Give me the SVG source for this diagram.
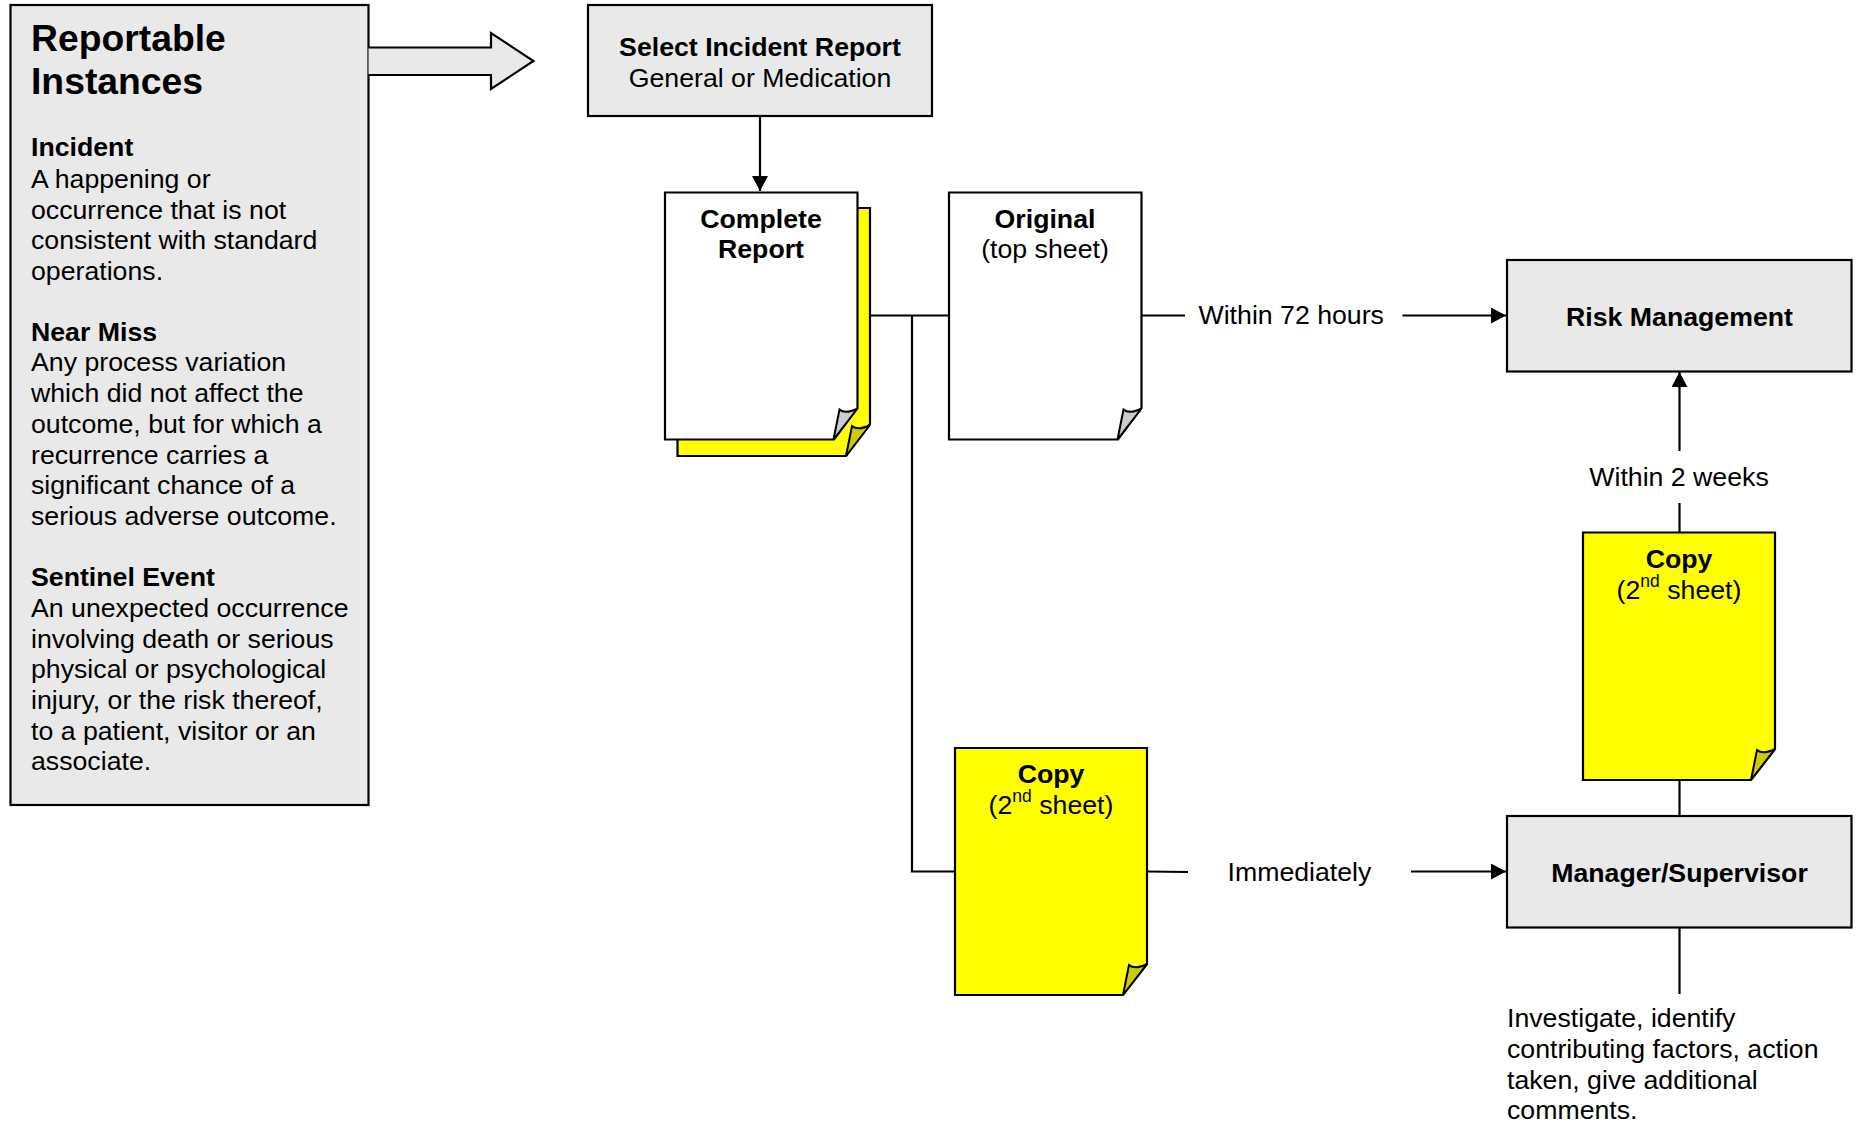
<svg xmlns="http://www.w3.org/2000/svg" width="1862" height="1126" viewBox="0 0 1862 1126">
<style>
text{font-family:"Liberation Sans",Arial,sans-serif;font-size:26.7px;fill:#000}
.b{font-weight:bold}
.h{font-weight:bold;font-size:37.3px}
.m{text-anchor:middle}
.box{fill:#e9e9e9;stroke:#000;stroke-width:2.2}
.w{fill:#fff;stroke:#000;stroke-width:2.2;stroke-linejoin:miter}
.y{fill:#ff0;stroke:#000;stroke-width:2.2}
.fw{fill:#ccc;stroke:#000;stroke-width:2}
.fy{fill:#cc0;stroke:#000;stroke-width:2}
.c{fill:none;stroke:#000;stroke-width:2.2}
</style>
<defs>
<marker id="a" markerUnits="userSpaceOnUse" markerWidth="16" markerHeight="16" refX="15" refY="8" orient="auto"><path d="M0,0L15,8L0,16Z" fill="#000"/></marker>
<path id="fold" d="M-24,0L-18,-30Q-12,-25 0,-31Z"/>
</defs>
<g id="connectors">
<path class="c" d="M760,116V191" marker-end="url(#a)"/>
<path class="c" d="M870,315.500H949"/>
<path class="c" d="M912,315.500V871.500H955"/>
<path class="c" d="M1141,315.500H1185"/>
<path class="c" d="M1402.500,315.500H1506" marker-end="url(#a)"/>
<path class="c" d="M1147,871.500L1188,872"/>
<path class="c" d="M1411,871.500H1506" marker-end="url(#a)"/>
<path class="c" d="M1679.500,816V780"/>
<path class="c" d="M1679.500,532V503"/>
<path class="c" d="M1679.500,451V372" marker-end="url(#a)"/>
<path class="c" d="M1679.500,927V994"/>
</g>
<g id="reportable">
<rect class="box" x="10.500" y="5" width="358" height="800"/>
<text class="h" x="31" y="51">Reportable</text>
<text class="h" x="31" y="94">Instances</text>
<text class="b" x="31" y="156">Incident</text>
<text x="31" y="188">A happening or</text>
<text x="31" y="219">occurrence that is not</text>
<text x="31" y="249">consistent with standard</text>
<text x="31" y="280">operations.</text>
<text class="b" x="31" y="341">Near Miss</text>
<text x="31" y="371">Any process variation</text>
<text x="31" y="402">which did not affect the</text>
<text x="31" y="433">outcome, but for which a</text>
<text x="31" y="464">recurrence carries a</text>
<text x="31" y="494">significant chance of a</text>
<text x="31" y="525">serious adverse outcome.</text>
<text class="b" x="31" y="586">Sentinel Event</text>
<text x="31" y="617">An unexpected occurrence</text>
<text x="31" y="648">involving death or serious</text>
<text x="31" y="678">physical or psychological</text>
<text x="31" y="709">injury, or the risk thereof,</text>
<text x="31" y="740">to a patient, visitor or an</text>
<text x="31" y="770">associate.</text>
</g>
<g id="block-arrow">
<path class="box" d="M368.500,47.500H491V33L533.500,61L491,89V75H368.500"/>
</g>
<g id="select-report">
<rect class="box" x="588" y="5" width="344" height="111"/>
<text class="b m" x="760" y="56">Select Incident Report</text>
<text class="m" x="760" y="87">General or Medication</text>
</g>
<g id="complete-report">
<path class="y" d="M677.500,208H870V424L846,456H677.500Z"/>
<use class="fy" href="#fold" x="870" y="456"/>
<path class="w" d="M665,192.500H857.500V408L834,439.500H665Z"/>
<use class="fw" href="#fold" x="857.500" y="439.500"/>
<text class="b m" x="761" y="228">Complete</text>
<text class="b m" x="761" y="258">Report</text>
</g>
<g id="original">
<path class="w" d="M949,192.500H1141.500V408L1118,439.500H949Z"/>
<use class="fw" href="#fold" x="1141.500" y="439.500"/>
<text class="b m" x="1045" y="228">Original</text>
<text class="m" x="1045" y="258">(top sheet)</text>
</g>
<g id="copy-lower">
<path class="y" d="M955,748H1147V964L1123,995H955Z"/>
<use class="fy" href="#fold" x="1147" y="995"/>
<text class="b m" x="1051" y="783">Copy</text>
<text class="m" x="1051" y="814">(2<tspan font-size="17.500" dy="-12">nd</tspan><tspan dy="12"> sheet)</tspan></text>
</g>
<g id="copy-upper">
<path class="y" d="M1583,532.500H1775V749L1751,780H1583Z"/>
<use class="fy" href="#fold" x="1775" y="780"/>
<text class="b m" x="1679" y="568">Copy</text>
<text class="m" x="1679" y="599">(2<tspan font-size="17.500" dy="-12">nd</tspan><tspan dy="12"> sheet)</tspan></text>
</g>
<g id="risk-management">
<rect class="box" x="1507" y="260" width="344.500" height="111.500"/>
<text class="b m" x="1679.500" y="326">Risk Management</text>
</g>
<g id="manager-supervisor">
<rect class="box" x="1507" y="816" width="344.500" height="111.500"/>
<text class="b m" x="1679.500" y="882">Manager/Supervisor</text>
</g>
<g id="labels">
<text x="1198.500" y="324">Within 72 hours</text>
<text x="1227.500" y="881">Immediately</text>
<text class="m" x="1679" y="486">Within 2 weeks</text>
<text x="1507" y="1027">Investigate, identify</text>
<text x="1507" y="1058">contributing factors, action</text>
<text x="1507" y="1089">taken, give additional</text>
<text x="1507" y="1119">comments.</text>
</g>
</svg>
